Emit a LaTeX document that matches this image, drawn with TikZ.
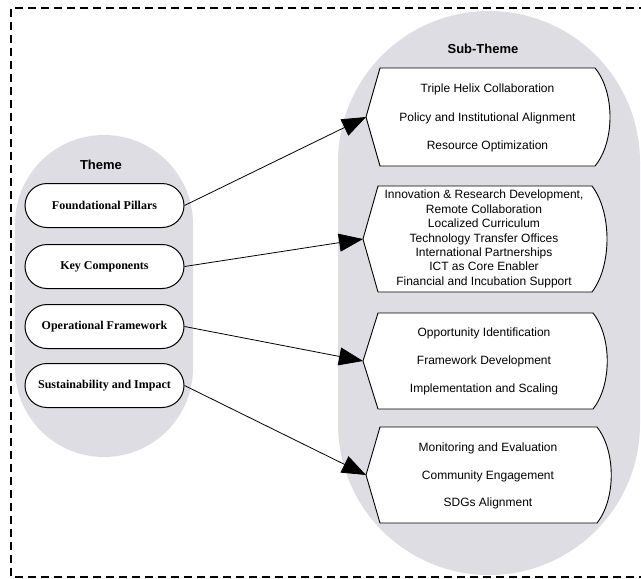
\documentclass[tikz,border=0pt]{standalone}
\usepackage{fontspec}
\setmainfont{Liberation Serif}
\setsansfont{Liberation Sans}
\usetikzlibrary{arrows.meta}
\definecolor{capsule}{RGB}{222,221,227}
\tikzset{
  themebox/.style={draw=black, line width=1pt, fill=white, rounded corners=22pt,
    minimum width=159pt, minimum height=44pt, inner sep=0pt,
    font=\fontsize{12}{14}\selectfont\bfseries\rmfamily},
  subtext/.style={align=center, inner sep=0pt, font=\fontsize{12}{14.4}\selectfont\sffamily},
  subshape/.style={draw=black, line width=0.9pt, fill=white},
  heading/.style={font=\fontsize{13}{15}\selectfont\sffamily\bfseries},
  link/.style={draw=black, line width=0.8pt, -{Triangle[length=24pt,width=18pt]}},
  frame/.style={draw=black, line width=1.5pt, dash pattern=on 8pt off 5pt}
}
\begin{document}
\begin{tikzpicture}[x=1pt,y=-1pt]
\useasboundingbox (0,0) rectangle (641,579);
% dashed frame
\draw[frame] (660,8) -- (11,8) -- (11,577) -- (660,577);
% capsules
\fill[capsule, rounded corners=89pt] (15,135) rectangle (193,457);
\fill[capsule, rounded corners=151pt] (338,11) rectangle (640,575);
% headings
\node[heading] (th) at (101,165) {Theme};
\node[heading] (sth) at (483,49) {Sub-Theme};
% theme nodes
\node[themebox] (t1) at (104.5,205.5) {Foundational Pillars};
\node[themebox] (t2) at (104.5,266.5) {Key Components};
\node[themebox] (t3) at (104.5,326.5) {Operational Framework};
\node[themebox] (t4) at (104.5,385.5) {Sustainability and Impact};
% sub-theme shapes
\draw[subshape] (380,68) -- (595,68) .. controls (615,92) and (615,142) .. (595,166) -- (380,166) -- (366,117) -- cycle;
\draw[subshape] (378,186) -- (592,186) .. controls (612,212) and (612,266) .. (592,292) -- (378,292) -- (363,239) -- cycle;
\draw[subshape] (378,313) -- (593,313) .. controls (612,337) and (612,385) .. (593,409) -- (378,409) -- (363,361) -- cycle;
\draw[subshape] (380,427) -- (597,427) .. controls (616,451) and (616,499) .. (597,523) -- (380,523) -- (366,475) -- cycle;
\coordinate (p1) at (366,117);
\coordinate (p2) at (363,239);
\coordinate (p3) at (363,361);
\coordinate (p4) at (366,475);
% sub-theme texts
\node[subtext, font=\fontsize{12}{28.5}\selectfont\sffamily] (s1) at (487.5,118) {Triple Helix Collaboration\\Policy and Institutional Alignment\\Resource Optimization};
\node[subtext] (s2) at (484,239) {Innovation \& Research Development,\\Remote Collaboration\\Localized Curriculum\\Technology Transfer Offices\\International Partnerships\\ICT as Core Enabler\\Financial and Incubation Support};
\node[subtext, font=\fontsize{12}{28}\selectfont\sffamily] (s3) at (484,361.5) {Opportunity Identification\\Framework Development\\Implementation and Scaling};
\node[subtext, font=\fontsize{12}{27.5}\selectfont\sffamily] (s4) at (488,476) {Monitoring and Evaluation\\Community Engagement\\SDGs Alignment};
% connectors
\draw[link] (t1.east) -- (p1);
\draw[link] (t2.east) -- (p2);
\draw[link] (t3.east) -- (p3);
\draw[link] (t4.east) -- (p4);
\end{tikzpicture}
\end{document}
